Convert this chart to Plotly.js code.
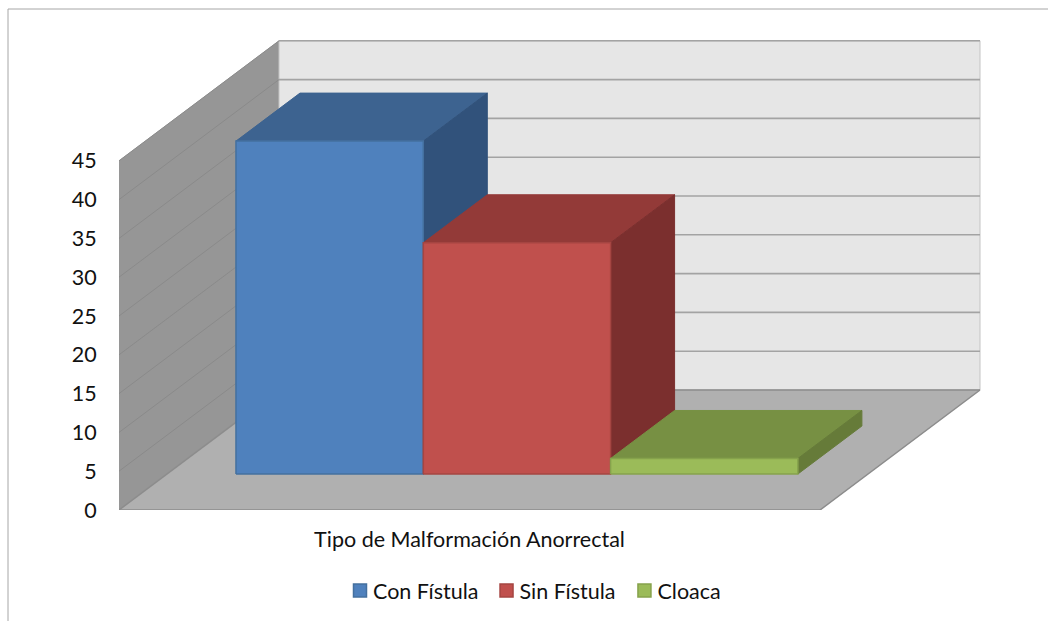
<!DOCTYPE html>
<html><head><meta charset="utf-8">
<script src="https://cdn.plot.ly/plotly-3.0.1.min.js"></script>
<style>html,body{margin:0;padding:0;background:#fff;overflow:hidden}#chart{width:1048px;height:621px}</style>
</head><body><div id="chart"></div>
<script>
// ---- data ----
const categoryLabel = ["Tipo de Malformación Anorrectal"];
const seriesNames = ["Con Fístula", "Sin Fístula", "Cloaca"];
const seriesValues = [42.9, 29.8, 2];
const tickValues = [0, 5, 10, 15, 20, 25, 30, 35, 40, 45];
const axisMax = 45;
// ---- styles ----
const frontColors = ["#4f81bd", "#c0504d", "#9bbb59"];
const topColors = ["#3d6390", "#933a38", "#779043"];
const sideColors = ["#31527b", "#7b2f2e", "#667b39"];
const edgeColors = ["#44709f", "#a54542", "#86a24c"];
const FONT = "Lato, Carlito, sans-serif";

// oblique projection, expressed in axis units
const W = 1048, H = 621, L = 119, T = 30, R = 985, B = 510;
const pxPerCat = 701, pxPerVal = 7.76;
const depthX = 160 / pxPerCat, depthY = 120 / pxPerVal;
const P = (u, v, d) => [u + d * depthX, v + d * depthY];
const poly = (pts) => { const c = pts.concat([pts[0]]).map(p => P(p[0], p[1], p[2]));
  return {x: c.map(p => p[0]), y: c.map(p => p[1])}; };
const face = (pts, fill, line, w) => Object.assign(poly(pts), {
  type: "scatter", mode: "lines", fill: "toself", fillcolor: fill,
  line: {color: line, width: w === undefined ? 1 : w}, hoverinfo: "skip", showlegend: false, cliponaxis: false});
const segs = (list, color, w) => { const x = [], y = [];
  list.forEach(s => { const a = P(...s[0]), b = P(...s[1]); x.push(a[0], b[0], null); y.push(a[1], b[1], null); });
  return {x, y, type: "scatter", mode: "lines", line: {color, width: w}, hoverinfo: "skip", showlegend: false, cliponaxis: false}; };

const traces = [];
// walls and floor
traces.push(face([[0,0,0],[0,axisMax,0],[0,axisMax,1],[0,0,1]], "#969696", "#969696", 0.5));
traces.push(face([[0,0,1],[0,axisMax,1],[1,axisMax,1],[1,0,1]], "#e6e6e6", "#c4c4c4", 1));
traces.push(face([[0,0,0],[1,0,0],[1,0,1],[0,0,1]], "#b0b0b0", "#b0b0b0", 0.5));
// gridlines
const grid = tickValues.filter(v => v > 0);
traces.push(segs(grid.map(v => [[0,v,0],[0,v,1]]), "#8a8a8a", 1));
traces.push(segs(grid.map(v => [[0,v,1],[1,v,1]]), "#a3a3a3", 1.6));
traces.push(segs([[[0,0,0],[1,0,0]],[[1,0,0],[1,0,1]],[[0,0,1],[1,0,1]],[[0,0,0],[0,0,1]]], "#8c8c8c", 1.5));

// bars
const barW = 0.2672, gap0 = 0.0984, d0 = 0.3, d1 = 0.7;
seriesValues.forEach((v, i) => {
  const a = gap0 + i * barW, b = a + barW;
  traces.push(face([[a,v,d0],[b,v,d0],[b,v,d1],[a,v,d1]], topColors[i], topColors[i]));
  traces.push(face([[b,0,d0],[b,v,d0],[b,v,d1],[b,0,d1]], sideColors[i], sideColors[i]));
  traces.push(face([[a,0,d0],[b,0,d0],[b,v,d0],[a,v,d0]], frontColors[i], edgeColors[i], 1.5));
});
// legend entries
seriesNames.forEach((n, i) => traces.push({
  x: [null], y: [null], type: "scatter", mode: "markers", name: n, hoverinfo: "skip",
  marker: {symbol: "square", size: 13, color: frontColors[i], line: {color: edgeColors[i], width: 1.5}}
}));

const pxX = x => (x - L) / (R - L), pxY = y => (B - y) / (B - T);
const layout = {
  width: W, height: H, margin: {l: L, r: W - R, t: T, b: H - B, autoexpand: false},
  paper_bgcolor: "#fff", plot_bgcolor: "rgba(0,0,0,0)",
  font: {family: FONT, size: 21.5, color: "#111"},
  xaxis: {range: [0, (R - L) / pxPerCat], tickvals: [0.5], ticktext: categoryLabel, showgrid: false, zeroline: false,
    showline: false, ticks: "outside", ticklen: 10, tickcolor: "rgba(0,0,0,0)", fixedrange: true},
  yaxis: {range: [0, (B - T) / pxPerVal], tickvals: tickValues, showgrid: false, zeroline: false,
    showline: false, ticks: "outside", ticklen: 17, tickcolor: "rgba(0,0,0,0)", fixedrange: true},
  showlegend: true,
  legend: {orientation: "h", x: pxX(333), xanchor: "left", y: pxY(570), yanchor: "top",
    bgcolor: "rgba(0,0,0,0)", traceorder: "normal", font: {family: FONT, size: 21.5, color: "#111"}},
  shapes: [
    {type: "line", xref: "paper", yref: "paper", x0: pxX(8), x1: pxX(8), y0: pxY(9), y1: pxY(621), line: {color: "#a6a6a6", width: 1}},
    {type: "line", xref: "paper", yref: "paper", x0: pxX(8), x1: pxX(1048), y0: pxY(9), y1: pxY(9), line: {color: "#a6a6a6", width: 1}}
  ]
};
const legendNudge = [0, -4, -7];
Plotly.newPlot("chart", traces, layout, {displayModeBar: false}).then(gd => {
  gd.querySelectorAll(".legend .legendsymbols").forEach(g => g.setAttribute("transform", "translate(7,0)"));
  gd.querySelectorAll(".legend .traces").forEach((g, i) => {
    const m = /translate\(([-\d.]+)[ ,]+([-\d.]+)\)/.exec(g.getAttribute("transform") || "");
    if (m) g.setAttribute("transform", `translate(${+m[1] + legendNudge[i]},${m[2]})`);
  });
});
</script></body></html>
